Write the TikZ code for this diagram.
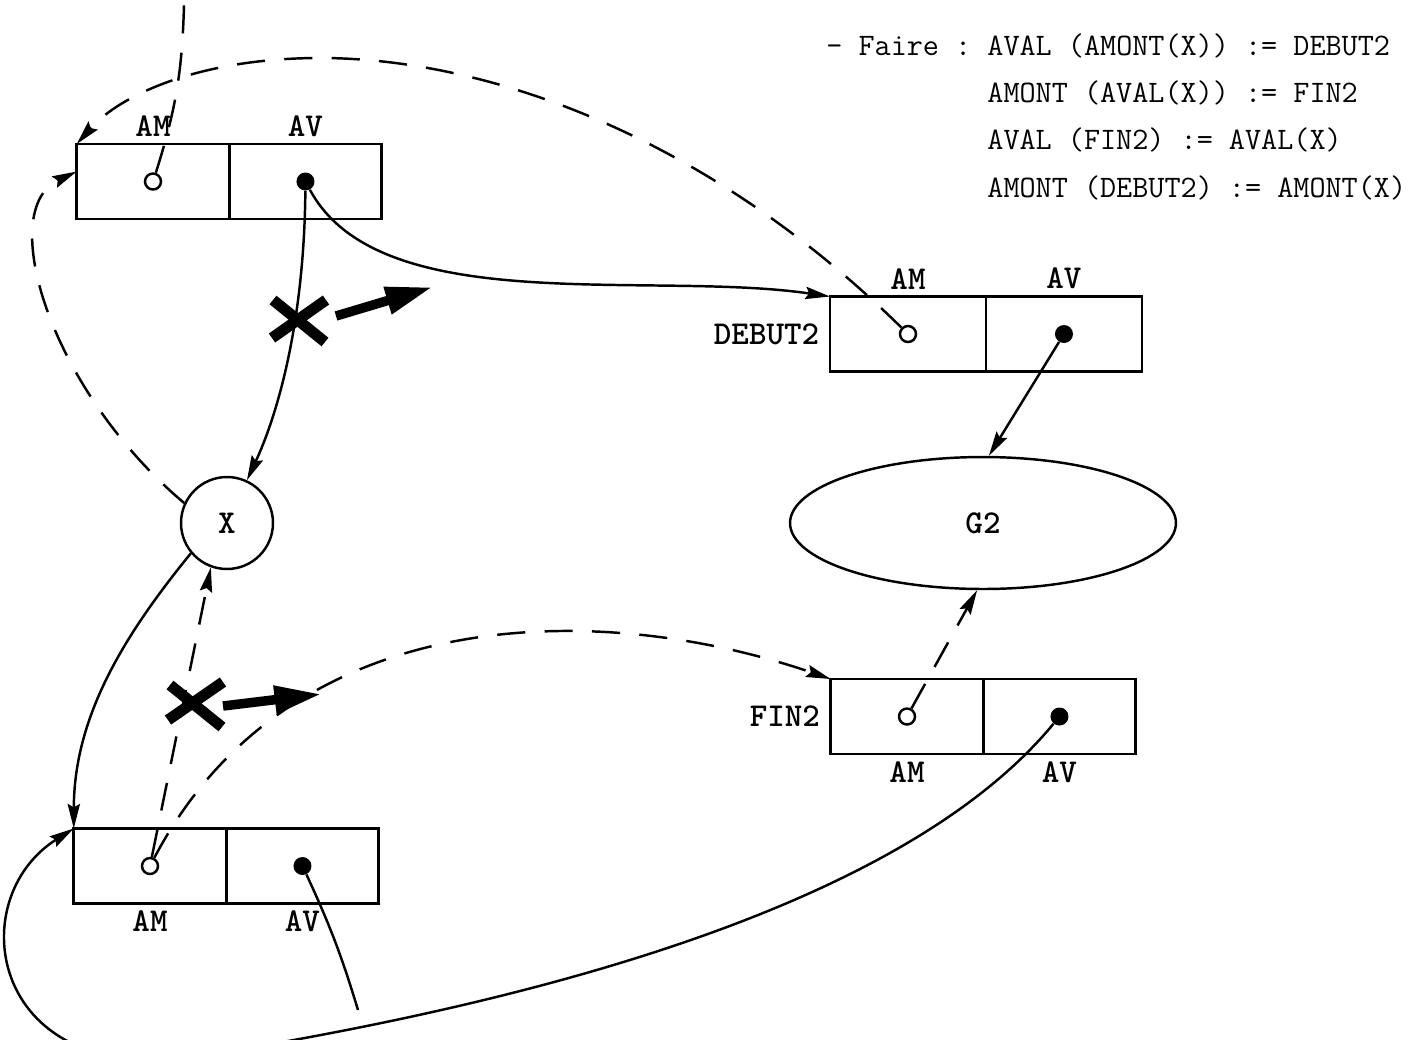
\documentclass[tikz,border=0pt]{standalone}
\usetikzlibrary{arrows.meta, positioning, shapes.geometric}

\begin{document}
\begin{tikzpicture}[x=0.02cm, y=-0.02cm, >=Stealth,
      cell/.style={draw, line width=1.6pt, minimum width=3.05cm, minimum height=1.5cm,
                   inner sep=0pt, outer sep=0pt},
      lbl/.style={font=\fontsize{19}{22}\selectfont\ttfamily\bfseries, inner sep=2pt},
      formula/.style={font=\fontsize{17.8}{27}\selectfont\ttfamily, inner sep=0pt},
      hole/.style={circle, draw, line width=1.4pt, fill=white, minimum size=0.32cm, inner sep=0pt},
      fulldot/.style={circle, fill, minimum size=0.36cm, inner sep=0pt},
      link/.style={line width=1.4pt},
      ptr/.style={link, -{Stealth[length=14pt, width=7pt, inset=2pt]}},
      dptr/.style={ptr, dash pattern=on 16pt off 11pt},
      dlink/.style={link, dash pattern=on 16pt off 11pt},
      cutmark/.style={line width=0.22cm},
      bigarrow/.style={line width=0.19cm, -{Triangle[length=0.95cm, width=0.52cm]}}]

    \useasboundingbox (0,0) rectangle (1428,1039);

    % === AMONT(X) ===
    \node[cell] (amxam) at (153,181.5) {};
    \node[cell, right=0pt of amxam] (amxav) {};
    \node[lbl, above=2pt of amxam] (amxamlbl) {AM};
    \node[lbl, above=2pt of amxav] (amxavlbl) {AV};
    \node[hole] (amxamdot) at (amxam.center) {};
    \node[fulldot] (amxavdot) at (amxav.center) {};

    % === DEBUT2 ===
    \node[cell, minimum width=3.12cm] (deb2am) at (908,334) {};
    \node[cell, minimum width=3.12cm, right=0pt of deb2am] (deb2av) {};
    \node[lbl, above=2pt of deb2am] (deb2amlbl) {AM};
    \node[lbl, above=2pt of deb2av] (deb2avlbl) {AV};
    \node[lbl, left=4pt of deb2am] (deb2lbl) {DEBUT2};
    \node[hole] (deb2amdot) at (deb2am.center) {};
    \node[fulldot] (deb2avdot) at (deb2av.center) {};

    % === X and G2 ===
    \node[circle, draw, line width=1.4pt, minimum size=1.84cm, lbl] (xn) at (227,523) {X};
    \node[ellipse, draw, line width=1.4pt, minimum width=7.72cm, minimum height=2.64cm, lbl] (g2) at (983,523) {G2};

    % === FIN2 ===
    \node[cell] (fin2am) at (907,716.5) {};
    \node[cell, right=0pt of fin2am] (fin2av) {};
    \node[lbl, below=2pt of fin2am] (fin2amlbl) {AM};
    \node[lbl, below=2pt of fin2av] (fin2avlbl) {AV};
    \node[lbl, left=4pt of fin2am] (fin2lbl) {FIN2};
    \node[hole] (fin2amdot) at (fin2am.center) {};
    \node[fulldot] (fin2avdot) at (fin2av.center) {};

    % === AVAL(X) ===
    \node[cell] (avxam) at (150,866) {};
    \node[cell, right=0pt of avxam] (avxav) {};
    \node[lbl, below=2pt of avxam] (avxamlbl) {AM};
    \node[lbl, below=2pt of avxav] (avxavlbl) {AV};
    \node[hole] (avxamdot) at (avxam.center) {};
    \node[fulldot] (avxavdot) at (avxav.center) {};

    % === what to do ===
    \node[formula, anchor=base west] (faire) at (826,55) {%
      \begin{tabular}[t]{@{}l@{\ }l@{}}
        - Faire : & AVAL (AMONT(X)) := DEBUT2\\
                  & AMONT (AVAL(X)) := FIN2\\
                  & AVAL (FIN2) := AVAL(X)\\
                  & AMONT (DEBUT2) := AMONT(X)
      \end{tabular}};

    % === pointers around AMONT(X) ===
    \coordinate (amxup) at (184,5);
    \draw[dlink] (amxamdot) to[bend right=8] (amxup);
    \draw[ptr] (amxavdot) .. controls (304,330) and (275,420) .. (xn.65);
    \draw[ptr] (amxavdot) .. controls (380,320) and (650,270) .. (deb2am.north west);
    \draw[dptr] (deb2amdot) .. controls (700,130) and (480,58) .. (320,58)
                .. controls (200,58) and (120,95) .. (amxam.north west);
    \draw[dptr] (xn.155) .. controls (50,390) and (-5,210) .. ([yshift=0.2cm]amxam.west);

    % === pointers around G2 ===
    \draw[ptr] (deb2avdot) -- (g2.85);
    \draw[dptr] (fin2amdot) -- (g2.265);

    % === pointers around AVAL(X) ===
    \draw[ptr] (xn.220) .. controls (120,640) and (74,720) .. (avxam.north west);
    \draw[dptr] (avxamdot) -- (xn.250);
    \draw[dptr] (avxamdot) .. controls (290,600) and (600,600) .. (fin2am.north west);
    \draw[ptr] (fin2avdot) .. controls (900,910) and (520,1005) .. (200,1056)
               .. controls (-10,1090) and (-40,900) .. (avxam.north west);
    \coordinate (avxout) at (358,1010);
    \draw[link] (avxavdot) to[bend left=4] (avxout);

    % === cut links ===
    \coordinate (cut1) at (299,321);
    \draw[cutmark] ([shift={(-26,-21)}]cut1) -- ([shift={(26,21)}]cut1);
    \draw[cutmark] ([shift={(27,-21)}]cut1) -- ([shift={(-27,17)}]cut1);
    \coordinate (move1a) at (336,316);
    \coordinate (move1b) at (433,287);
    \draw[bigarrow] (move1a) -- (move1b);

    \coordinate (cut2) at (196,704);
    \draw[cutmark] ([shift={(-26,-19)}]cut2) -- ([shift={(26,23)}]cut2);
    \draw[cutmark] ([shift={(27,-22)}]cut2) -- ([shift={(-28,16)}]cut2);
    \coordinate (move2a) at (223,706);
    \coordinate (move2b) at (322,694);
    \draw[bigarrow] (move2a) -- (move2b);

\end{tikzpicture}
\end{document}
